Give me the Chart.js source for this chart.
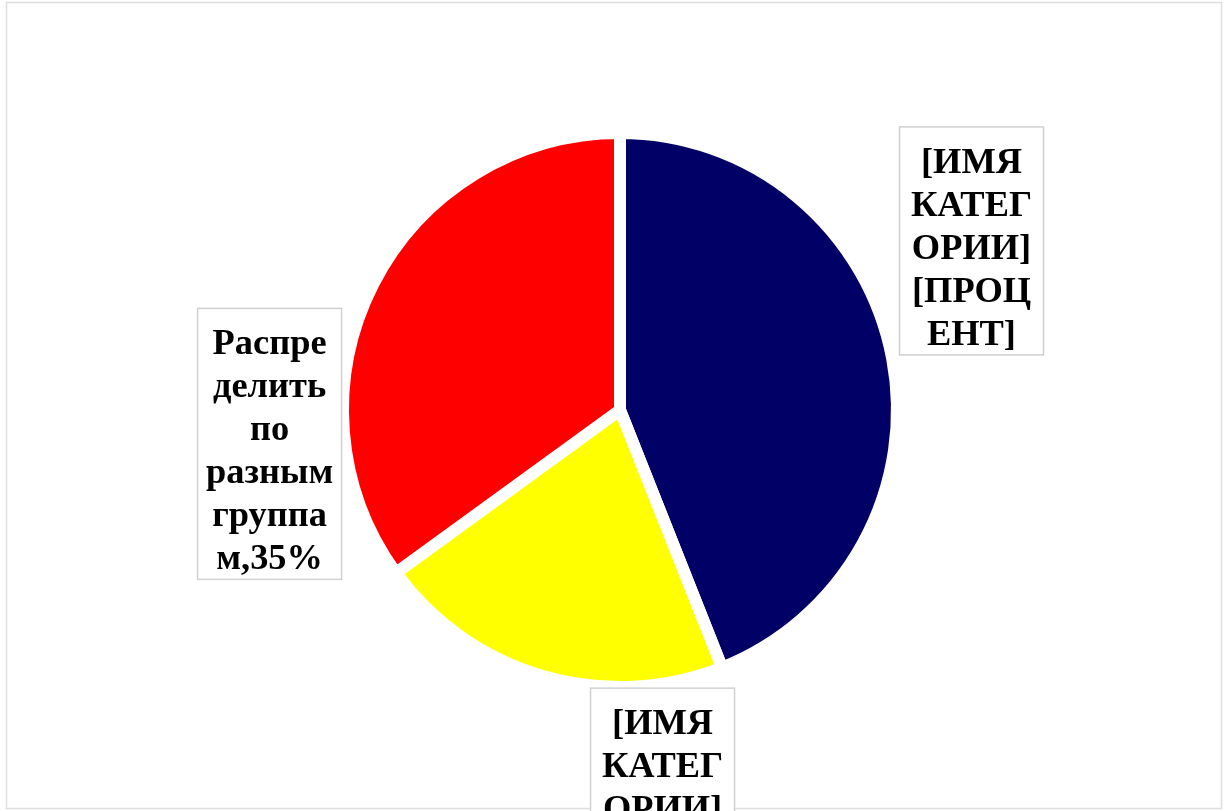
<!DOCTYPE html>
<html>
<head>
<meta charset="utf-8">
<script src="https://cdn.jsdelivr.net/npm/chart.js@4/dist/chart.umd.min.js"></script>
<style>
  html, body { margin: 0; padding: 0; background: #fff; }
  .wrap { width: 1232px; height: 811px; position: relative; }
</style>
</head>
<body>
<div class="wrap"><canvas id="pie"></canvas></div>
<script>
// DATA/////
var categories = ['[ИМЯ КАТЕГОРИИ]', '[ИМЯ КАТЕГОРИИ]', 'Распределить по разным группам'];
var values = [44, 21, 35];
var colors = ['#000066', '#ffff00', '#ff0000'];
// label text as it wraps in the picture
var labelLines = [
  ['[ИМЯ', 'КАТЕГ', 'ОРИИ]', '[ПРОЦ', 'ЕНТ]'],
  ['[ИМЯ', 'КАТЕГ', 'ОРИИ]', '[ПРОЦ', 'ЕНТ]'],
  ['Распре', 'делить', 'по', 'разным', 'группа', 'м,35%']
];
// where each label box sits, in pie radii from the centre
var labelPos = [[1.297, -0.624], [0.157, 1.447], [-1.293, 0.125]];

// frame round the whole picture
var framePlugin = {
  id: 'frame',
  beforeDraw: function(chart) {
    var c = chart.ctx;
    c.save();
    c.strokeStyle = '#dedede';
    c.lineWidth = 1.5;
    c.strokeRect(6.5, 2.5, 1215, 806);
    c.restore();
  }
};

// data labels////
var labelPlugin = {
  id: 'boxLabels',
  afterDraw: function(chart) {
    var c = chart.ctx;
    var arcs = chart.getDatasetMeta(0).data;
    c.save();
    c.font = 'bold 35px "Liberation Serif", "Times New Roman", serif';
    c.textAlign = 'center';
    c.textBaseline = 'alphabetic';
    arcs.forEach(function(arc, i) {
      var p = arc.getProps(['x', 'y', 'outerRadius'], true);
      var r = p.outerRadius - 6;
      var lines = labelLines[i];
      var w = 144, lh = 43;
      var h = 46 + (lines.length - 1) * lh + 10;
      var cx = p.x + labelPos[i][0] * r;
      var cy = p.y + labelPos[i][1] * r;
      var x0 = cx - w / 2, y0 = cy - h / 2;
      c.fillStyle = '#fff';
      c.fillRect(x0, y0, w, h);
      c.strokeStyle = '#d0d0d0';
      c.lineWidth = 1.5;
      c.strokeRect(x0, y0, w, h);
      c.fillStyle = '#000';
      lines.forEach(function(t, j) {
        c.save();
        c.translate(cx, y0 + 46 + j * lh);
        c.scale(1.04, 1);
        c.fillText(t, 0, 0);
        c.restore();
      });
    });
    c.restore();
  }
};

var ctx = document.getElementById('pie').getContext('2d');

var myPieChart = new Chart(ctx, {
  type: 'pie',
  data: {
    labels: categories,
    datasets: [{
      data: values,
      backgroundColor: colors,
      borderColor: '#ffffff',
      borderWidth: 12
    }]
  },
  options: {
    responsive: true,
    maintainAspectRatio: false,
    animation: false,
    layout: { padding: { left: 337, right: 329, top: 127, bottom: 118 } },
    plugins: {
      legend: { display: false },
      tooltip: { enabled: false }
    }
  },
  plugins: [framePlugin, labelPlugin]
});
</script>
</body>
</html>
